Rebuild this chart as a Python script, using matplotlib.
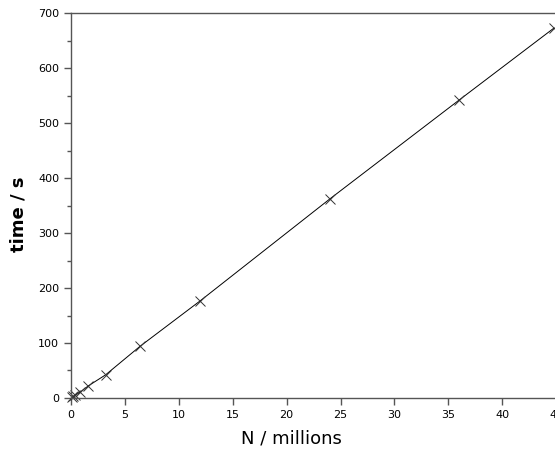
import matplotlib
matplotlib.use("Agg")
import matplotlib.pyplot as plt
from matplotlib.ticker import MultipleLocator

n_millions = [0.1, 0.2, 0.4, 0.8, 1.6, 3.2, 6.4, 12, 24, 36, 44.8]
time_s = [1, 3, 5, 10, 22, 42, 94, 177, 362, 542, 673]

x_ticks = [0, 5, 10, 15, 20, 25, 30, 35, 40, 45]
y_ticks = [0, 100, 200, 300, 400, 500, 600, 700]

fig = plt.figure(figsize=(5.55, 4.5), dpi=100)
ax = fig.add_axes([0.128, 0.1156, 0.874, 0.855])
ax.plot(n_millions, time_s, color="black", lw=0.7, marker="x", ms=7, mew=0.7,
        mec="#333333", clip_on=False)
ax.set_xlim(0, 45)
ax.set_ylim(0, 700)
ax.set_xticks(x_ticks)
ax.set_yticks(y_ticks)
ax.yaxis.set_minor_locator(MultipleLocator(50))
for s in ax.spines.values():
    s.set_color("#555555")
    s.set_linewidth(1.0)
ax.spines["right"].set_visible(False)
ax.tick_params(which="both", direction="out", color="#555555", labelsize=8, width=1)
ax.tick_params(which="major", length=5)
ax.tick_params(which="minor", length=3)
ax.set_xlabel("N / millions", fontsize=13)
ax.set_ylabel("time / s", fontsize=13, fontweight="bold")
ax.xaxis.set_label_coords(0.4536, -0.082)
ax.yaxis.set_label_coords(-0.089, 0.478)
fig.savefig("out.png", dpi=100)
